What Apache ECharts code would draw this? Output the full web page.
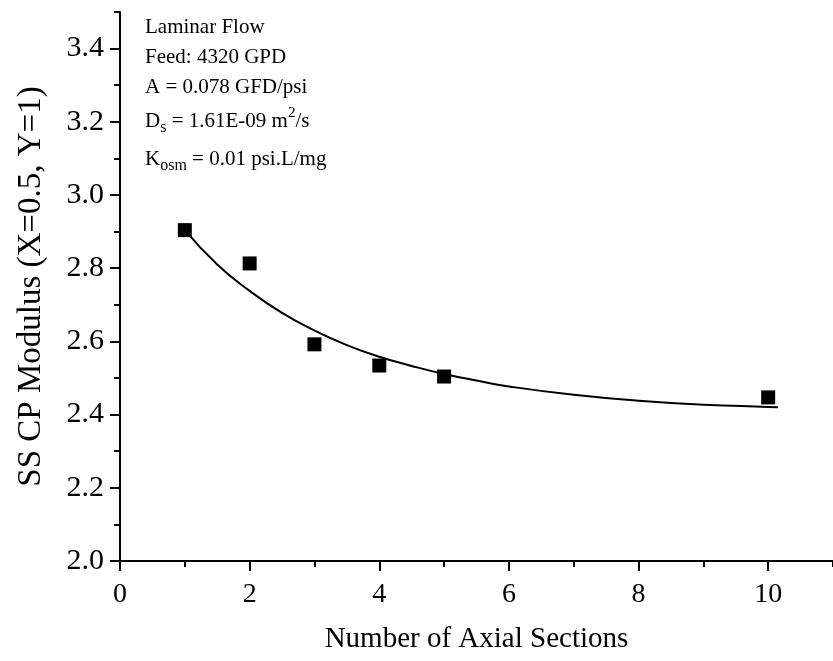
<!DOCTYPE html>
<html>
<head>
<meta charset="utf-8">
<script src="https://cdn.jsdelivr.net/npm/echarts@6/dist/echarts.min.js"></script>
<style>
html,body{margin:0;padding:0;background:#fff;}
#chart{width:833px;height:661px;}
</style>
</head>
<body>
<div id="chart"></div>
<script>
// Data
var sectionsX = [1, 2, 3, 4, 5, 10];
var cpModulus = [2.904, 2.813, 2.592, 2.534, 2.504, 2.447];
// Fitted curve
var fitX = [1, 1.5, 2, 2.5, 3, 3.5, 4, 4.5, 5, 5.5, 6, 7, 8, 9, 10, 10.15];
var fitY = [2.905, 2.81, 2.738, 2.678, 2.63, 2.59, 2.558, 2.533, 2.511, 2.493, 2.477, 2.454, 2.438, 2.427, 2.421, 2.42];
var annotationLines = [
  'Laminar Flow',
  'Feed: 4320 GPD',
  'A = 0.078 GFD/psi',
  'D{sub|s} = 1.61E-09 m{sup|2}/s',
  'K{sub|osm} = 0.01 psi.L/mg'
];
var xTitle = 'Number of Axial Sections';
var yTitle = 'SS CP Modulus (X=0.5, Y=1)';

var FONT = "'Liberation Serif', 'Times New Roman', serif";
var chart = echarts.init(document.getElementById('chart'), null, {renderer: 'canvas'});

function pairs(xs, ys) { return xs.map(function (x, i) { return [x, ys[i]]; }); }

var annoY = [27, 57, 87, 121, 159];
var graphics = annotationLines.map(function (t, i) {
  return {
    type: 'text',
    left: 145,
    top: annoY[i] - 15,
    z: 100,
    style: {
      text: t,
      fill: '#000',
      font: '21px ' + FONT,
      lineHeight: 30,
      rich: {
        sub: {fontSize: 16, fontFamily: FONT, lineHeight: 16, verticalAlign: 'bottom', fill: '#000'},
        sup: {fontSize: 15, fontFamily: FONT, lineHeight: 14, verticalAlign: 'top', fill: '#000'}
      }
    }
  };
});

var axisLineStyle = {color: '#000', width: 2};
var option = {
  backgroundColor: '#fff',
  animation: false,
  grid: {left: 120, top: 12, width: 716, height: 549, containLabel: false},
  xAxis: [{
    type: 'value', min: 0, max: 11, interval: 2, position: 'bottom',
    axisLine: {show: true, onZero: false, lineStyle: axisLineStyle},
    axisTick: {show: true, inside: false, length: 10, lineStyle: axisLineStyle},
    axisLabel: {show: true, margin: 20, fontSize: 28, fontFamily: FONT, color: '#000', showMaxLabel: false},
    splitLine: {show: false},
    name: xTitle, nameLocation: 'middle', nameGap: 64,
    nameTextStyle: {fontSize: 29, fontFamily: FONT, color: '#000'}
  }, {
    type: 'value', min: 0, max: 11, interval: 1, position: 'bottom',
    axisLine: {show: false},
    axisTick: {show: true, inside: false, length: 6, lineStyle: axisLineStyle},
    axisLabel: {show: false},
    splitLine: {show: false}
  }],
  yAxis: [{
    type: 'value', min: 2.0, max: 3.5, interval: 0.2, position: 'left',
    axisLine: {show: true, onZero: false, lineStyle: axisLineStyle},
    axisTick: {show: true, inside: false, length: 10, lineStyle: axisLineStyle},
    axisLabel: {show: true, margin: 16, fontSize: 30, fontFamily: FONT, color: '#000', showMaxLabel: false,
      formatter: function (v) { return v.toFixed(1); }},
    splitLine: {show: false},
    name: yTitle, nameLocation: 'middle', nameGap: 72, nameRotate: 90,
    nameTextStyle: {fontSize: 33, fontFamily: FONT, color: '#000'}
  }, {
    type: 'value', min: 2.0, max: 3.5, interval: 0.1, position: 'left', offset: 0,
    axisLine: {show: false},
    axisTick: {show: true, inside: false, length: 6, lineStyle: axisLineStyle},
    axisLabel: {show: false},
    splitLine: {show: false}
  }],
  graphic: graphics,
  series: [{
    type: 'line',
    xAxisIndex: 0, yAxisIndex: 0,
    data: pairs(fitX, fitY),
    smooth: true,
    showSymbol: false,
    lineStyle: {color: '#000', width: 2},
    z: 2
  }, {
    type: 'scatter',
    xAxisIndex: 0, yAxisIndex: 0,
    data: pairs(sectionsX, cpModulus),
    symbol: 'rect',
    symbolSize: 14,
    itemStyle: {color: '#000', opacity: 1},
    z: 3
  }]
};
chart.setOption(option);
</script>
</body>
</html>
